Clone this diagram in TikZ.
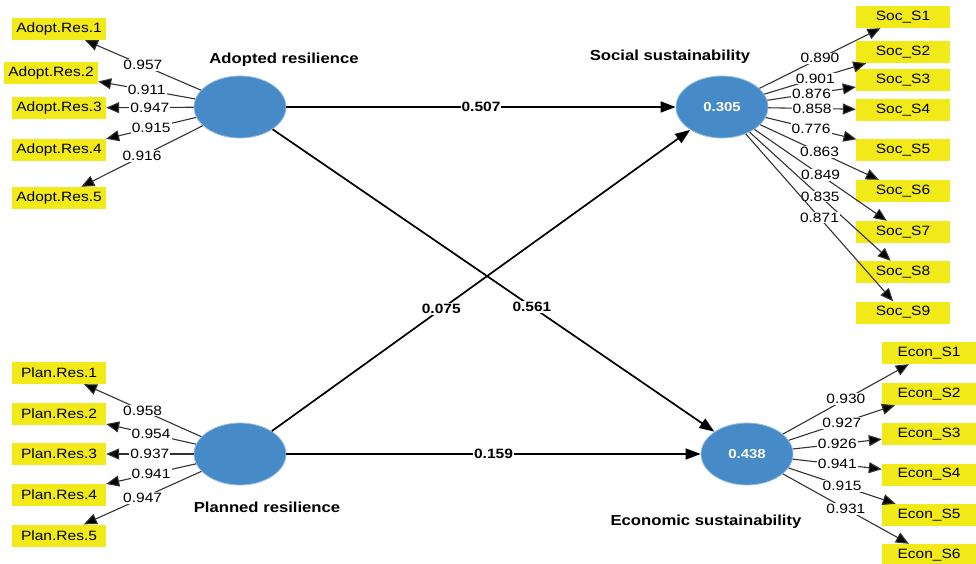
\documentclass[tikz,border=0pt]{standalone}
\usepackage{fontspec}
\setmainfont[FakeStretch=1.15]{Liberation Sans}
\usetikzlibrary{arrows.meta,shapes.geometric,positioning}
\definecolor{lvblue}{RGB}{70,138,200}
\definecolor{indyellow}{RGB}{242,234,24}

\begin{document}
\begin{tikzpicture}[x=1pt,y=-1pt,
    lv/.style={ellipse, fill=lvblue, draw=lvblue!55, line width=0.8pt, minimum width=92pt, minimum height=62pt, inner sep=0pt, text=white, font=\bfseries\fontsize{13}{13}\selectfont},
    ind/.style={rectangle, fill=indyellow, minimum width=94pt, minimum height=22pt, inner sep=0pt, font=\fontsize{13.5}{14}\selectfont},
    lvname/.style={font=\bfseries\fontsize{14.5}{15}\selectfont},
    load/.style={draw=black!80, line width=1.1pt, -{Triangle[length=13pt,width=11pt,fill=black]}},
    rel/.style={draw=black, line width=1.7pt, -{Triangle[length=15pt,width=11pt]}},
    num/.style={fill=white, inner sep=1pt, font=\fontsize{13.5}{14}\selectfont},
    bnum/.style={fill=white, inner sep=1pt, font=\bfseries\fontsize{13.5}{14}\selectfont}
]
\useasboundingbox (0,0) rectangle (976,564);

% ---- Variables latentes ----
\node[lv] (adopt) at (240,107) {};
\node[lv] (social) at (722,107) {0.305};
\node[lv] (plan) at (240,454) {};
\node[lv] (econ) at (747,454) {0.438};

\node[lvname] (adoptlab) at (284,60) {Adopted resilience};
\node[lvname] (sociallab) at (670,57) {Social sustainability};
\node[lvname] (planlab) at (267,507) {Planned resilience};
\node[lvname] (econlab) at (706,522) {Economic sustainability};

% ---- Adopted resilience (izquierda) ----
\node[ind] (ar1) at (59,29) {Adopt.Res.1};
\node[ind] (ar2) at (51,73) {Adopt.Res.2};
\node[ind] (ar3) at (59,108) {Adopt.Res.3};
\node[ind] (ar4) at (59,150) {Adopt.Res.4};
\node[ind] (ar5) at (59,198) {Adopt.Res.5};

\draw[load] (adopt) -- node[num] {0.957} (ar1);
\draw[load] (adopt) -- node[num] {0.911} (ar2);
\draw[load] (adopt) -- node[num] {0.947} (ar3);
\draw[load] (adopt) -- node[num] {0.915} (ar4);
\draw[load] (adopt) -- node[num] {0.916} (ar5);

% ---- Planned resilience (izquierda) ----
\node[ind] (pr1) at (59,373) {Plan.Res.1};
\node[ind] (pr2) at (59,413.5) {Plan.Res.2};
\node[ind] (pr3) at (59,454) {Plan.Res.3};
\node[ind] (pr4) at (59,494.5) {Plan.Res.4};
\node[ind] (pr5) at (59,535.5) {Plan.Res.5};

\draw[load] (plan) -- node[num] {0.958} (pr1);
\draw[load] (plan) -- node[num] {0.954} (pr2);
\draw[load] (plan) -- node[num] {0.937} (pr3);
\draw[load] (plan) -- node[num] {0.941} (pr4);
\draw[load] (plan) -- node[num] {0.947} (pr5);

% ---- Social sustainability (derecha) ----
\begin{scope}[every node/.append style={minimum width=96pt}]
\node[ind] (ss1) at (903,17) {Soc\_S1};
\node[ind] (ss2) at (903,52) {Soc\_S2};
\node[ind] (ss3) at (903,80) {Soc\_S3};
\node[ind] (ss4) at (903,110) {Soc\_S4};
\node[ind] (ss5) at (903,150.5) {Soc\_S5};
\node[ind] (ss6) at (903,191) {Soc\_S6};
\node[ind] (ss7) at (903,232) {Soc\_S7};
\node[ind] (ss8) at (903,272) {Soc\_S8};
\node[ind] (ss9) at (903,312.5) {Soc\_S9};
\end{scope}

\draw[load] (social) -- node[num] {0.890} (ss1);
\draw[load] (social) -- node[num] {0.901} (ss2);
\draw[load] (social) -- node[num] {0.876} (ss3);
\draw[load] (social) -- node[num] {0.858} (ss4);
\draw[load] (social) -- node[num] {0.776} (ss5);
\draw[load] (social) -- node[num] {0.863} (ss6);
\draw[load] (social) -- node[num] {0.849} (ss7);
\draw[load] (social) -- node[num] {0.835} (ss8);
\draw[load] (social) -- node[num] {0.871} (ss9);

% ---- Economic sustainability (derecha) ----
\node[ind] (es1) at (929,353) {Econ\_S1};
\node[ind] (es2) at (929,394) {Econ\_S2};
\node[ind] (es3) at (929,434) {Econ\_S3};
\node[ind] (es4) at (929,474.5) {Econ\_S4};
\node[ind] (es5) at (929,515) {Econ\_S5};
\node[ind] (es6) at (929,555) {Econ\_S6};

\draw[load] (econ) -- node[num] {0.930} (es1);
\draw[load] (econ) -- node[num] {0.927} (es2);
\draw[load] (econ) -- node[num] {0.926} (es3);
\draw[load] (econ) -- node[num] {0.941} (es4);
\draw[load] (econ) -- node[num] {0.915} (es5);
\draw[load] (econ) -- node[num] {0.931} (es6);

% ---- Relaciones estructurales ----
\draw[rel] (adopt) -- node[bnum] {0.507} (social);
\draw[rel] (plan) -- node[bnum] {0.159} (econ);
\draw[rel] (plan) -- node[bnum, pos=0.405] {0.075} (social);
\draw[rel] (adopt) -- node[bnum, pos=0.587] {0.561} (econ);

\end{tikzpicture}
\end{document}
